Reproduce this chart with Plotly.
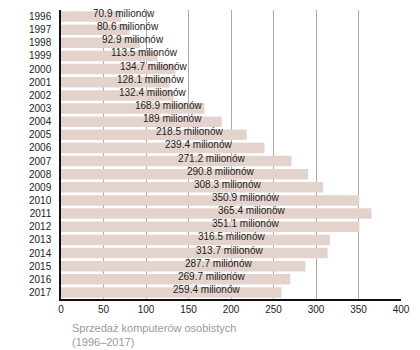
import plotly.graph_objects as go

years = list(range(1996, 2018))
sales = [70.9, 80.6, 92.9, 113.5, 134.7, 128.1, 132.4, 168.9, 189, 218.5, 239.4,
         271.2, 290.8, 308.3, 350.9, 365.4, 351.1, 316.5, 313.7, 287.7, 269.7, 259.4]
x_ticks = [0, 50, 100, 150, 200, 250, 300, 350, 400]
unit = "milionów"
title_lines = ["Sprzedaż komputerów osobistych", "(1996–2017)"]

FONT = "Liberation Sans, Arial, sans-serif"

fig = go.Figure()
fig.add_trace(go.Bar(
    y=years, x=sales, orientation="h", width=0.8,
    marker=dict(color="#e4d3cc", line=dict(width=0)),
    hoverinfo="skip",
))

for yr, v in zip(years, sales):
    fig.add_annotation(
        x=v / 2, y=yr, xref="x", yref="y",
        text=f"{v:g} {unit}", showarrow=False,
        xanchor="left", yanchor="middle", yshift=3,
        font=dict(family=FONT, size=10, color="#222"),
    )

fig.add_annotation(
    x=0.026, y=-0.072, xref="paper", yref="paper",
    text="<br>".join(title_lines), showarrow=False, align="left",
    xanchor="left", yanchor="top",
    font=dict(family=FONT, size=11, color="#9a9a9a"),
)

fig.update_layout(
    width=420, height=350,
    margin=dict(l=61, r=16, t=10, b=51),
    paper_bgcolor="white", plot_bgcolor="white",
    showlegend=False,
    font=dict(family=FONT, size=10, color="#222"),
)
fig.update_xaxes(
    range=[0, 400], tickvals=x_ticks, showgrid=True, gridcolor="#aaaaaa", gridwidth=1,
    zeroline=False, showline=True, linecolor="#111", linewidth=1.5,
    ticks="", tickfont=dict(size=10, color="#222"), fixedrange=True,
)
fig.update_yaxes(
    range=[years[-1] + 0.5, years[0] - 0.5], tickvals=years, ticktext=[str(y) for y in years],
    showgrid=False, zeroline=False, showline=True, linecolor="#111", linewidth=1.5,
    ticks="", tickfont=dict(size=10, color="#222"), ticklabelstandoff=6, fixedrange=True,
)

fig.write_html("out.html")
